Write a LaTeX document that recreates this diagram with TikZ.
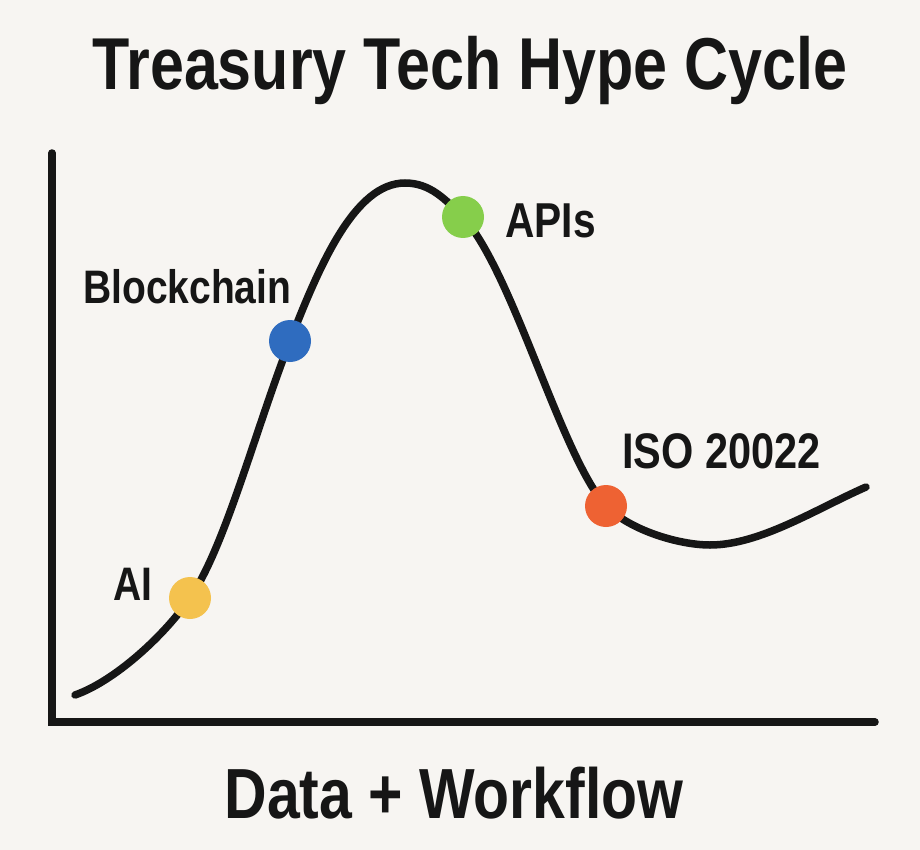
\documentclass[tikz,border=0pt]{standalone}
\usepackage{fontspec}
\setmainfont{Liberation Sans}[FakeStretch=0.83]
\definecolor{bgc}{HTML}{F7F5F2}
\definecolor{inkc}{HTML}{161616}
\definecolor{aiyellow}{HTML}{F4C24E}
\definecolor{bcblue}{HTML}{2F6CBF}
\definecolor{apigreen}{HTML}{86CE4B}
\definecolor{isoorange}{HTML}{EE6233}
\begin{document}
\begin{tikzpicture}[x=1pt,y=-1pt,
  axisline/.style={draw=inkc,line width=7.5pt,line cap=round,line join=miter},
  hypecurve/.style={draw=inkc,line width=7.5pt,line cap=round},
  dot/.style={circle,inner sep=0pt,minimum size=42pt},
  lbl/.style={font=\fontsize{47}{50}\selectfont\bfseries,text=inkc,anchor=base west,inner sep=0pt},
  bigtxt/.style={font=\fontsize{71}{74}\selectfont\bfseries,text=inkc,anchor=base,inner sep=0pt}]
\fill[bgc] (0,0) rectangle (920,850);
\useasboundingbox (0,0) rectangle (920,850);
% title and axis caption
\node[bigtxt,font=\fontsize{73.5}{76}\selectfont\bfseries] (title) at (470,90) {Treasury Tech Hype Cycle};
\node[bigtxt] (xcap) at (454,818) {Data + Workflow};
% axes
\coordinate (ytop) at (52,153);
\coordinate (origin) at (52,722);
\coordinate (xend) at (875,722);
\draw[axisline] (ytop) -- (origin) -- (xend);
% curve points
\coordinate (c0) at (75,695);
\coordinate (pAI) at (190,598);
\coordinate (pBC) at (290,341);
\coordinate (peak) at (405,183);
\coordinate (pAPI) at (463,217);
\coordinate (pISO) at (606,506);
\coordinate (trough) at (710,545);
\coordinate (c9) at (866,487);
\draw[hypecurve] (c0) .. controls (115,681) and (165,635) .. (pAI)
  .. controls (225,547) and (255,431) .. (pBC)
  .. controls (320,264) and (355,183) .. (peak)
  .. controls (430,183) and (445,199) .. (pAPI)
  .. controls (513,272) and (561,456) .. (pISO)
  .. controls (631,531) and (680,545) .. (trough)
  .. controls (760,545) and (816,509) .. (c9);
% dots
\node[dot,fill=aiyellow] (ai) at (pAI) {};
\node[dot,fill=bcblue] (bc) at (pBC) {};
\node[dot,fill=apigreen] (api) at (pAPI) {};
\node[dot,fill=isoorange] (iso) at (pISO) {};
% labels
\node[lbl] (lai) at (113,600) {AI};
\node[lbl] (lbc) at (83,303) {Blockchain};
\node[lbl,font=\fontsize{49}{52}\selectfont\bfseries] (lapi) at (505,238) {APIs};
\node[lbl,font=\fontsize{50}{53}\selectfont\bfseries] (liso) at (622,468) {ISO 20022};
\end{tikzpicture}
\end{document}
